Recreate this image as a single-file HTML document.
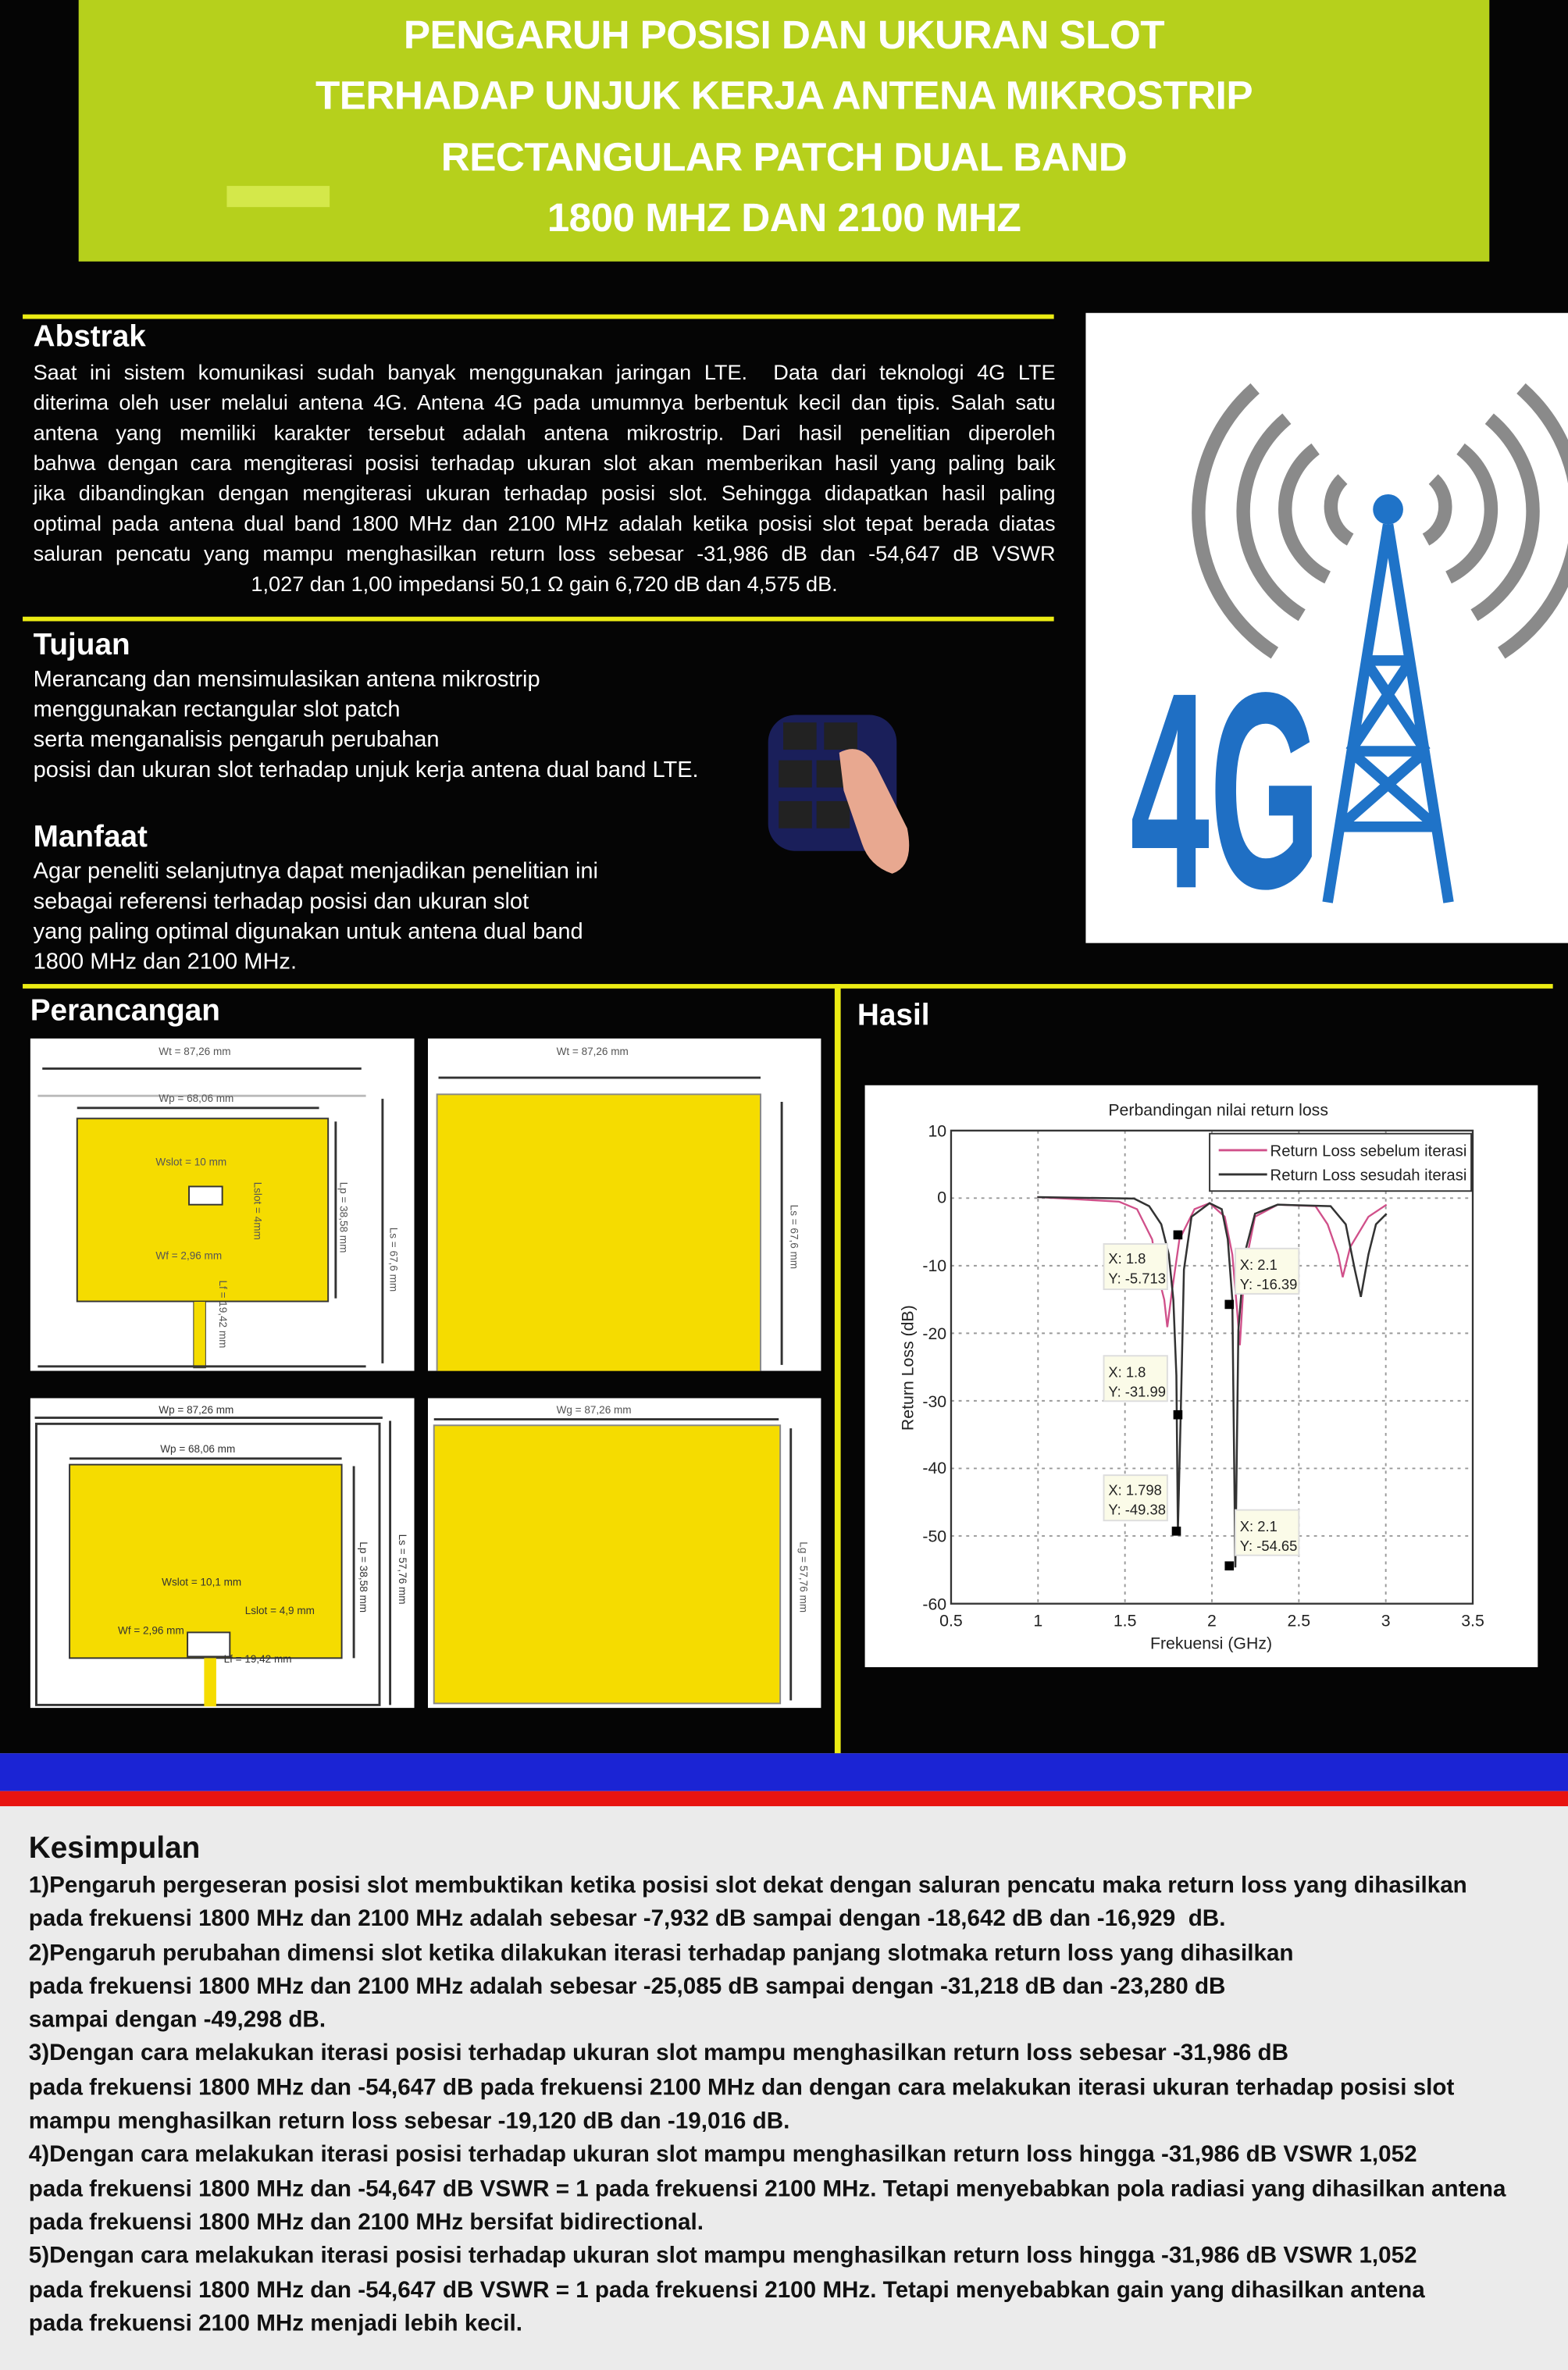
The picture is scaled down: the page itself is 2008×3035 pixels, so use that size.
<!DOCTYPE html>
<html><head><meta charset="utf-8"><style>
html,body{margin:0;padding:0;width:2008px;height:3035px;overflow:hidden;background:#ebebeb}
#w{position:absolute;left:0;top:0;width:1037px;height:1568px;transform:scale(1.93636,1.93559);transform-origin:0 0;font-family:"Liberation Sans",sans-serif}
.a{position:absolute}
.t{color:#fff;font-size:14px;line-height:20px;white-space:nowrap}
.t2{color:#fff;font-size:15px;line-height:20px;white-space:nowrap}
.j{text-align:justify;text-align-last:justify;white-space:normal}
.h{color:#fff;font-size:20px;font-weight:bold}
.yl{position:absolute;background:#ecec14}
.k{color:#111;font-size:15.3px;font-weight:bold;line-height:22.3px;white-space:nowrap}
</style></head><body><div id="w">
<div class="a" style="left:0;top:0;width:1037px;height:1160px;background:#050505"></div>
<div class="a" style="left:52px;top:0;width:933px;height:173px;background:#b6d01c"></div>
<div class="a" style="left:150px;top:123px;width:68px;height:14px;background:#d4e84a"></div>
<div class="a" style="left:52px;top:3px;width:933px;text-align:center;color:#fff;font-weight:bold;font-size:26.5px;line-height:40.3px;letter-spacing:-0.3px">PENGARUH POSISI DAN UKURAN SLOT<br>TERHADAP UNJUK KERJA ANTENA MIKROSTRIP<br>RECTANGULAR PATCH DUAL BAND<br>1800 MHZ DAN 2100 MHZ</div>

<div class="yl" style="left:15px;top:208px;width:682px;height:3px"></div>
<div class="a h" style="left:22px;top:212px">Abstrak</div>
<div class="a t" style="left:22px;top:236px;width:676px">
<div class="j">Saat ini sistem komunikasi sudah banyak menggunakan jaringan LTE.&nbsp; Data dari teknologi 4G LTE</div>
<div class="j">diterima oleh user melalui antena 4G. Antena 4G pada umumnya berbentuk kecil dan tipis. Salah satu</div>
<div class="j">antena yang memiliki karakter tersebut adalah antena mikrostrip. Dari hasil penelitian diperoleh</div>
<div class="j">bahwa dengan cara mengiterasi posisi terhadap ukuran slot akan memberikan hasil yang paling baik</div>
<div class="j">jika dibandingkan dengan mengiterasi ukuran terhadap posisi slot. Sehingga didapatkan hasil paling</div>
<div class="j">optimal pada antena dual band 1800 MHz dan 2100 MHz adalah ketika posisi slot tepat berada diatas</div>
<div class="j">saluran pencatu yang mampu menghasilkan return loss sebesar -31,986 dB dan -54,647 dB VSWR</div>
<div style="text-align:center">1,027 dan 1,00 impedansi 50,1 Ω gain 6,720 dB dan 4,575 dB.</div>
</div>
<div class="yl" style="left:15px;top:408px;width:682px;height:3px"></div>
<div class="a h" style="left:22px;top:416px">Tujuan</div>
<div class="a t2" style="left:22px;top:440px">Merancang dan mensimulasikan antena mikrostrip<br>menggunakan rectangular slot patch<br>serta menganalisis pengaruh perubahan<br>posisi dan ukuran slot terhadap unjuk kerja antena dual band LTE.</div>
<div class="a h" style="left:22px;top:543px">Manfaat</div>
<div class="a t2" style="left:22px;top:567px">Agar peneliti selanjutnya dapat menjadikan penelitian ini<br>sebagai referensi terhadap posisi dan ukuran slot<br>yang paling optimal digunakan untuk antena dual band<br>1800 MHz dan 2100 MHz.</div>

<svg class="a" style="left:500px;top:468px" width="115" height="115">
<rect x="8" y="5" width="85" height="90" rx="18" fill="#1a1f5a"/>
<rect x="18" y="10" width="22" height="18" fill="#222"/><rect x="45" y="10" width="22" height="18" fill="#222"/>
<rect x="15" y="35" width="22" height="18" fill="#222"/><rect x="40" y="35" width="22" height="18" fill="#222"/>
<rect x="15" y="62" width="22" height="18" fill="#222"/><rect x="40" y="62" width="22" height="18" fill="#222"/>
<path d="M55 30 Q70 22 80 40 L100 80 Q105 105 90 110 Q75 105 70 90 L58 55 Z" fill="#e8a890"/>
</svg>

<svg class="a" style="left:718px;top:207px" width="319" height="417">
<rect width="319" height="417" fill="#fff"/>
<g fill="none" stroke="#8a8a8a" stroke-width="9">
<path d="M170 110 A25 25 0 0 0 175 150"/><path d="M230 110 A25 25 0 0 1 225 150"/>
<path d="M152 90 A50 50 0 0 0 160 175"/><path d="M248 90 A50 50 0 0 1 240 175"/>
<path d="M133 70 A80 80 0 0 0 143 200"/><path d="M267 70 A80 80 0 0 1 257 200"/>
<path d="M112 50 A110 110 0 0 0 125 225"/><path d="M288 50 A110 110 0 0 1 275 225"/>
</g>
<g stroke="#1f73c8" stroke-width="7" fill="none">
<path d="M200 140 L160 390 M200 140 L240 390 M185 230 L215 230 M175 290 L225 290 M168 340 L232 340 M185 230 L225 290 M215 230 L175 290 M175 290 L232 340 M225 290 L168 340"/>
</g>
<circle cx="200" cy="130" r="10" fill="#1f73c8"/>
<text x="42" y="380" font-family="Liberation Sans" font-weight="bold" font-size="185" fill="#1f6fc4" transform="scale(0.7,1)" textLength="180" lengthAdjust="spacingAndGlyphs">4G</text>
</svg>

<div class="yl" style="left:15px;top:651px;width:1012px;height:3px"></div>
<div class="yl" style="left:552px;top:651px;width:4px;height:509px"></div>
<div class="a h" style="left:20px;top:658px">Perancangan</div>
<div class="a h" style="left:567px;top:661px">Hasil</div>

<svg class="a" style="left:20px;top:687px" width="254" height="220" font-family="Liberation Sans" font-size="7" fill="#555">
<rect width="254" height="220" fill="#fff"/>
<text x="85" y="11">Wt = 87,26 mm</text>
<line x1="8" y1="20" x2="219" y2="20" stroke="#333" stroke-width="1.5"/>
<line x1="5" y1="38" x2="222" y2="38" stroke="#bbb" stroke-width="1.5"/>
<text x="85" y="42">Wp = 68,06 mm</text>
<line x1="31" y1="46" x2="191" y2="46" stroke="#333" stroke-width="1.5"/>
<rect x="31" y="53" width="166" height="121" fill="#f5dc00" stroke="#333"/>
<rect x="105" y="98" width="22" height="12" fill="#fff" stroke="#333"/>
<text x="83" y="84">Wslot = 10 mm</text>
<text x="83" y="146">Wf = 2,96 mm</text>
<rect x="108" y="174" width="8" height="44" fill="#f5dc00" stroke="#333" stroke-width=".5"/>
<line x1="5" y1="217" x2="222" y2="217" stroke="#333" stroke-width="1.5"/>
<line x1="202" y1="55" x2="202" y2="172" stroke="#333" stroke-width="1.5"/>
<line x1="233" y1="40" x2="233" y2="215" stroke="#333" stroke-width="1.5"/>
<text transform="translate(205,95) rotate(90)">Lp = 38,58 mm</text>
<text transform="translate(238,125) rotate(90)">Ls = 67,6 mm</text>
<text transform="translate(148,95) rotate(90)">Lslot = 4mm</text>
<text transform="translate(125,160) rotate(90)">Lf = 19,42 mm</text>
</svg>
<svg class="a" style="left:283px;top:687px" width="260" height="220" font-family="Liberation Sans" font-size="7" fill="#555">
<rect width="260" height="220" fill="#fff"/>
<text x="85" y="11">Wt = 87,26 mm</text>
<line x1="7" y1="26" x2="220" y2="26" stroke="#333" stroke-width="1.5"/>
<rect x="6" y="37" width="214" height="196" fill="#f5dc00" stroke="#888"/>
<line x1="234" y1="42" x2="234" y2="216" stroke="#333" stroke-width="1.5"/>
<text transform="translate(240,110) rotate(90)">Ls = 67,6 mm</text>
</svg>
<svg class="a" style="left:20px;top:925px" width="254" height="205" font-family="Liberation Sans" font-size="7" fill="#333">
<rect width="254" height="205" fill="#fff"/>
<text x="85" y="10">Wp = 87,26 mm</text>
<line x1="3" y1="13" x2="233" y2="13" stroke="#333" stroke-width="1.5"/>
<rect x="4" y="17" width="227" height="186" fill="none" stroke="#333" stroke-width="1.5"/>
<text x="86" y="36">Wp = 68,06 mm</text>
<line x1="26" y1="40" x2="206" y2="40" stroke="#333" stroke-width="1.5"/>
<rect x="26" y="44" width="180" height="128" fill="#f5dc00" stroke="#333"/>
<rect x="104" y="155" width="28" height="16" fill="#fff" stroke="#333"/>
<text x="87" y="124">Wslot = 10,1 mm</text>
<text x="142" y="143">Lslot = 4,9 mm</text>
<text x="58" y="156">Wf = 2,96 mm</text>
<rect x="115" y="172" width="8" height="32" fill="#f5dc00"/>
<text x="128" y="175">Lf = 19,42 mm</text>
<line x1="214" y1="45" x2="214" y2="172" stroke="#333" stroke-width="1.5"/>
<line x1="238" y1="15" x2="238" y2="203" stroke="#333" stroke-width="1.5"/>
<text transform="translate(218,95) rotate(90)">Lp = 38,58 mm</text>
<text transform="translate(244,90) rotate(90)">Ls = 57,76 mm</text>
</svg>
<svg class="a" style="left:283px;top:925px" width="260" height="205" font-family="Liberation Sans" font-size="7" fill="#555">
<rect width="260" height="205" fill="#fff"/>
<text x="85" y="10">Wg = 87,26 mm</text>
<line x1="4" y1="14" x2="232" y2="14" stroke="#333" stroke-width="1.5"/>
<rect x="4" y="18" width="229" height="184" fill="#f5dc00" stroke="#888"/>
<line x1="240" y1="20" x2="240" y2="200" stroke="#333" stroke-width="1.5"/>
<text transform="translate(246,95) rotate(90)">Lg = 57,76 mm</text>
</svg>

<svg class="a" style="left:0;top:0" width="1037" height="1160" font-family="Liberation Sans" font-size="11" fill="#222">
<rect x="572" y="718" width="445" height="385" fill="#fff"/>
<text x="733" y="738">Perbandingan nilai return loss</text>
<g stroke="#999" stroke-dasharray="2,3" stroke-width="1">
<line x1="686.5" y1="748" x2="686.5" y2="1061"/><line x1="744" y1="748" x2="744" y2="1061"/><line x1="801.5" y1="748" x2="801.5" y2="1061"/><line x1="859" y1="748" x2="859" y2="1061"/><line x1="916.5" y1="748" x2="916.5" y2="1061"/>
<line x1="629" y1="792.7" x2="974" y2="792.7"/><line x1="629" y1="837.4" x2="974" y2="837.4"/><line x1="629" y1="882.1" x2="974" y2="882.1"/><line x1="629" y1="926.8" x2="974" y2="926.8"/><line x1="629" y1="971.5" x2="974" y2="971.5"/><line x1="629" y1="1016.2" x2="974" y2="1016.2"/>
</g>
<rect x="629" y="748" width="345" height="313" fill="none" stroke="#333" stroke-width="1.2"/>
<g text-anchor="end"><text x="626" y="752">10</text><text x="626" y="796">0</text><text x="626" y="841">-10</text><text x="626" y="886">-20</text><text x="626" y="931">-30</text><text x="626" y="975">-40</text><text x="626" y="1020">-50</text><text x="626" y="1065">-60</text></g>
<g text-anchor="middle"><text x="629" y="1076">0.5</text><text x="686.5" y="1076">1</text><text x="744" y="1076">1.5</text><text x="801.5" y="1076">2</text><text x="859" y="1076">2.5</text><text x="916.5" y="1076">3</text><text x="974" y="1076">3.5</text>
<text x="801" y="1091">Frekuensi (GHz)</text>
<text transform="translate(604,905) rotate(-90)">Return Loss (dB)</text></g>
<path d="M686 792 L740 795 L752 800 L762 820 L765 840 L770 860 L772 878 L775 855 L780 820 L790 800 L800 796 L810 805 L815 830 L818 865 L820 890 L823 840 L830 805 L845 797 L870 798 L878 810 L885 830 L888 845 L893 825 L905 805 L917 797" fill="none" stroke="#d0508a" stroke-width="1.2"/>
<path d="M686 792 L750 793 L760 798 L768 810 L773 830 L776 860 L778 910 L779 1013 L781 930 L783 840 L788 805 L800 796 L808 800 L812 820 L815 860 L817 1037 L819 880 L823 830 L830 803 L845 797 L880 798 L890 810 L896 840 L900 858 L905 830 L910 810 L917 803" fill="none" stroke="#333" stroke-width="1.3"/>
<rect x="800" y="750" width="173" height="38" fill="#fff" stroke="#333"/>
<line x1="806" y1="761" x2="838" y2="761" stroke="#d0508a" stroke-width="1.5"/>
<line x1="806" y1="777" x2="838" y2="777" stroke="#333" stroke-width="1.5"/>
<text x="840" y="765" font-size="10.5">Return Loss sebelum iterasi</text>
<text x="840" y="781" font-size="10.5">Return Loss sesudah iterasi</text>
<g font-size="9.5">
<rect x="730" y="823" width="42" height="30" fill="#fbfbe8" stroke="#ddd"/><text x="733" y="836">X: 1.8</text><text x="733" y="849">Y: -5.713</text>
<rect x="817" y="826" width="42" height="30" fill="#fbfbe8" stroke="#ddd"/><text x="820" y="840">X: 2.1</text><text x="820" y="853">Y: -16.39</text>
<rect x="730" y="897" width="42" height="30" fill="#fbfbe8" stroke="#ddd"/><text x="733" y="911">X: 1.8</text><text x="733" y="924">Y: -31.99</text>
<rect x="730" y="976" width="42" height="30" fill="#fbfbe8" stroke="#ddd"/><text x="733" y="989">X: 1.798</text><text x="733" y="1002">Y: -49.38</text>
<rect x="817" y="999" width="42" height="30" fill="#fbfbe8" stroke="#ddd"/><text x="820" y="1013">X: 2.1</text><text x="820" y="1026">Y: -54.65</text>
</g>
<g fill="#000"><rect x="776" y="814" width="6" height="6"/><rect x="776" y="933" width="6" height="6"/><rect x="775" y="1010" width="6" height="6"/><rect x="810" y="860" width="6" height="6"/><rect x="810" y="1033" width="6" height="6"/></g>
</svg>

<div class="a" style="left:0;top:1160px;width:1037px;height:25px;background:#1b24d4"></div>
<div class="a" style="left:0;top:1185px;width:1037px;height:10px;background:#e81410"></div>
<div class="a" style="left:19px;top:1212px;font-size:20px;font-weight:bold;color:#111">Kesimpulan</div>
<div class="a k" style="left:19px;top:1237px">1)Pengaruh pergeseran posisi slot membuktikan ketika posisi slot dekat dengan saluran pencatu maka return loss yang dihasilkan<br>pada frekuensi 1800 MHz dan 2100 MHz adalah sebesar -7,932 dB sampai dengan -18,642 dB dan -16,929&nbsp; dB.<br>2)Pengaruh perubahan dimensi slot ketika dilakukan iterasi terhadap panjang slotmaka return loss yang dihasilkan<br>pada frekuensi 1800 MHz dan 2100 MHz adalah sebesar -25,085 dB sampai dengan -31,218 dB dan -23,280 dB<br>sampai dengan -49,298 dB.<br>3)Dengan cara melakukan iterasi posisi terhadap ukuran slot mampu menghasilkan return loss sebesar -31,986 dB<br>pada frekuensi 1800 MHz dan -54,647 dB pada frekuensi 2100 MHz dan dengan cara melakukan iterasi ukuran terhadap posisi slot<br>mampu menghasilkan return loss sebesar -19,120 dB dan -19,016 dB.<br>4)Dengan cara melakukan iterasi posisi terhadap ukuran slot mampu menghasilkan return loss hingga -31,986 dB VSWR 1,052<br>pada frekuensi 1800 MHz dan -54,647 dB VSWR = 1 pada frekuensi 2100 MHz. Tetapi menyebabkan pola radiasi yang dihasilkan antena<br>pada frekuensi 1800 MHz dan 2100 MHz bersifat bidirectional.<br>5)Dengan cara melakukan iterasi posisi terhadap ukuran slot mampu menghasilkan return loss hingga -31,986 dB VSWR 1,052<br>pada frekuensi 1800 MHz dan -54,647 dB VSWR = 1 pada frekuensi 2100 MHz. Tetapi menyebabkan gain yang dihasilkan antena<br>pada frekuensi 2100 MHz menjadi lebih kecil.</div>
</div></body></html>
